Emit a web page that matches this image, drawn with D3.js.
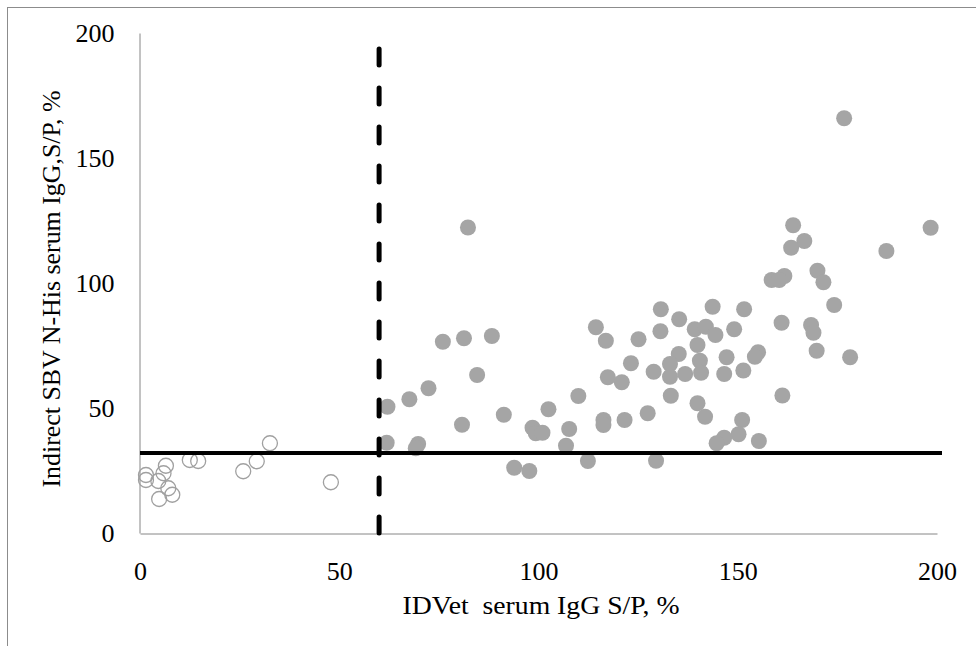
<html>
  <head>
    <meta charset="utf-8" />
    <script src="https://cdnjs.cloudflare.com/ajax/libs/d3/7.6.1/d3.min.js"></script>
    <style>
      body { margin: 0; background: #fff; }
      svg { display: block; }
      text { font-family: "Liberation Serif", "Times New Roman", serif; fill: #000; }
    </style>
  </head>
  <body>
    <svg width="976" height="646"></svg>
  </body>
  <script>
    // seronegative samples (open circles): [IDVet S/P, N-His S/P]
    const negX = [1.5, 1.5, 6.5, 5.9, 4.6, 7.1, 8.1, 4.8, 12.5, 14.6, 25.9, 29.3, 32.6, 47.9];
    const negY = [23.2, 21.2, 26.9, 23.9, 20.8, 17.9, 15.3, 13.6, 29.2, 28.8, 24.7, 28.7, 35.9, 20.3];

    // seropositive samples (filled circles)
    const posX = [62.1, 61.9, 67.6, 72.4, 69.8, 69.2, 76.0, 81.3, 88.3, 84.6, 80.8, 91.3, 98.5, 99.3,
      101.0, 102.5, 107.7, 106.9, 110.0, 93.9, 97.7, 112.4, 82.3, 114.4, 116.9, 125.1, 130.7, 130.6,
      135.3, 143.7, 151.6, 139.2, 142.0, 144.4, 149.1, 139.9, 135.2, 133.0, 123.2, 140.5, 140.8, 136.8,
      133.0, 128.9, 117.4, 120.9, 147.2, 146.6, 151.4, 155.1, 154.3, 133.2, 139.9, 141.8, 127.4, 121.6,
      116.3, 116.3, 151.1, 150.2, 146.6, 144.7, 155.3, 129.5, 161.0, 161.2, 176.7, 198.4, 187.3, 163.9,
      166.7, 163.4, 158.5, 161.7, 160.4, 170.0, 171.5, 174.2, 168.4, 169.0, 169.8, 178.2];
    const posY = [50.5, 36.1, 53.5, 57.9, 35.6, 33.9, 76.5, 77.9, 78.8, 63.2, 43.3, 47.3, 42.1, 39.9,
      40.1, 49.5, 41.6, 34.9, 54.8, 26.1, 24.8, 28.8, 122.2, 82.3, 76.9, 77.5, 89.5, 80.7,
      85.5, 90.5, 89.5, 81.5, 82.5, 79.2, 81.5, 75.2, 71.6, 67.6, 67.9, 68.9, 64.1, 63.6,
      62.5, 64.5, 62.3, 60.3, 70.3, 63.6, 65.0, 72.3, 70.5, 54.9, 51.9, 46.5, 47.9, 45.2,
      45.2, 43.2, 45.2, 39.5, 38.1, 35.9, 36.8, 28.9, 84.1, 55.0, 165.9, 122.1, 112.8, 123.1,
      116.8, 114.1, 101.2, 102.8, 101.2, 104.9, 100.3, 91.2, 83.2, 80.1, 72.9, 70.3];

    const ticks = [0, 50, 100, 150, 200];
    const cutX = 60; // IDVet cut-off
    const cutY = 32; // N-His cut-off

    const svg = d3.select("svg");

    // outer frame
    svg.append("rect")
      .attr("x", 7.5).attr("y", 7.5)
      .attr("width", 1000).attr("height", 700)
      .attr("fill", "none").attr("stroke", "#8c8c8c");

    const xScale = d3.scaleLinear().domain([0, 200]).range([140, 937]);
    const yScale = d3.scaleLinear().domain([0, 200]).range([533, 33]);

    // axes
    const xAxis = d3.axisBottom(xScale).tickValues(ticks).tickSize(0).tickPadding(28);
    const yAxis = d3.axisLeft(yScale).tickValues(ticks).tickSize(0).tickPadding(25);

    svg.append("g").attr("class", "x axis")
      .attr("transform", "translate(0,533.5)")
      .call(xAxis);
    svg.append("g").attr("class", "y axis")
      .attr("transform", "translate(139.5,0)")
      .call(yAxis);

    svg.selectAll(".axis path").attr("stroke", "#868686");
    svg.selectAll(".axis text")
      .attr("font-family", "Liberation Serif")
      .attr("font-size", 26)
      .attr("fill", "#000");

    // points
    const neg = negX.map((x, i) => [x, negY[i]]);
    const pos = posX.map((x, i) => [x, posY[i]]);

    svg.append("g").selectAll("circle")
      .data(pos).enter().append("circle")
      .attr("cx", (d) => xScale(d[0]))
      .attr("cy", (d) => yScale(d[1]))
      .attr("r", 8)
      .attr("fill", "#a5a5a5");

    svg.append("g").selectAll("circle")
      .data(neg).enter().append("circle")
      .attr("cx", (d) => xScale(d[0]))
      .attr("cy", (d) => yScale(d[1]))
      .attr("r", 7.5)
      .attr("fill", "none")
      .attr("stroke", "#a0a0a0")
      .attr("stroke-width", 1.3);

    // cut-off lines
    svg.append("line")
      .attr("x1", xScale(0)).attr("x2", xScale(200) + 5)
      .attr("y1", yScale(cutY)).attr("y2", yScale(cutY))
      .attr("stroke", "#000").attr("stroke-width", 4);

    svg.append("line")
      .attr("x1", xScale(cutX)).attr("x2", xScale(cutX))
      .attr("y1", yScale(0)).attr("y2", 49)
      .attr("stroke", "#000").attr("stroke-width", 5)
      .attr("stroke-linecap", "round")
      .attr("stroke-dasharray", "16 23");

    // axis titles
    svg.append("text")
      .attr("x", 541).attr("y", 614)
      .attr("text-anchor", "middle")
      .attr("font-size", 26)
      .attr("textLength", 277)
      .attr("lengthAdjust", "spacingAndGlyphs")
      .attr("xml:space", "preserve")
      .text("IDVet  serum IgG S/P, %");

    svg.append("text")
      .attr("transform", "translate(60,289) rotate(-90)")
      .attr("text-anchor", "middle")
      .attr("font-size", 26)
      .attr("textLength", 397)
      .attr("lengthAdjust", "spacingAndGlyphs")
      .text("Indirect SBV N-His serum IgG,S/P, %");
  </script>
</html>
